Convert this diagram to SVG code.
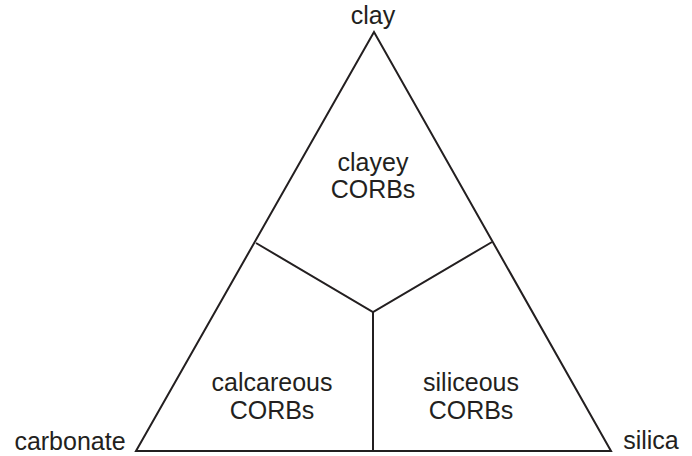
<svg xmlns="http://www.w3.org/2000/svg" width="692" height="456" viewBox="0 0 692 456">
  <style>
    .edge { fill: none; stroke: #231f20; stroke-width: 2; stroke-linejoin: miter; }
    text { font-family: "Liberation Sans", Arial, sans-serif; font-size: 25px; fill: #231f20; text-anchor: middle; }
  </style>
  <rect width="692" height="456" fill="#ffffff"/>
  <g id="connectors">
    <polygon class="edge" points="374,32 136,451 611,451"/>
    <polyline class="edge" points="256,243 373,312 492,242"/>
    <line class="edge" x1="373" y1="312" x2="373" y2="451"/>
  </g>
  <g id="clay"><text x="373" y="24">clay</text></g>
  <g id="carbonate"><text x="70" y="450">carbonate</text></g>
  <g id="silica"><text x="651" y="449">silica</text></g>
  <g id="clayey-corbs">
    <text x="373" y="171">clayey</text>
    <text x="373" y="198">CORBs</text>
  </g>
  <g id="calcareous-corbs">
    <text x="272" y="391">calcareous</text>
    <text x="272" y="419">CORBs</text>
  </g>
  <g id="siliceous-corbs">
    <text x="471" y="391">siliceous</text>
    <text x="471" y="419">CORBs</text>
  </g>
</svg>
